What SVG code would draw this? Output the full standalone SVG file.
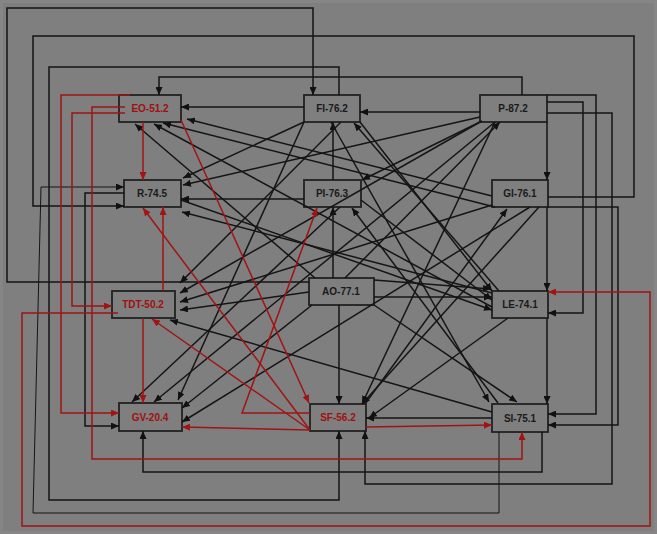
<svg xmlns="http://www.w3.org/2000/svg" width="657" height="534" viewBox="0 0 657 534">
<defs>
<marker id="ab" markerWidth="8" markerHeight="7" refX="8" refY="3.5" orient="auto" markerUnits="userSpaceOnUse"><path d="M0,0 L8,3.5 L0,7 z" fill="#111"/></marker>
<marker id="ar" markerWidth="8" markerHeight="7" refX="8" refY="3.5" orient="auto" markerUnits="userSpaceOnUse"><path d="M0,0 L8,3.5 L0,7 z" fill="#a01414"/></marker>
</defs>
<style>
.bg{fill:#7f7f7f}
.n rect{fill:#7f7f7f;stroke:#222;stroke-width:1.8}
.n text{font-family:"Liberation Sans",Arial,sans-serif;font-size:10px;font-weight:bold;text-anchor:middle;fill:#1a1a1a}
.n.red text{fill:#a01010}
.k path{fill:none;stroke:#151515;stroke-width:1.5}
.k path.b{marker-end:url(#ab)}
.k path.r{stroke:#a01414;marker-end:url(#ar)}
</style>
<rect x="0" y="0" width="657" height="534" fill="#868686"/>
<rect class="bg" x="3" y="3" width="651" height="528"/>
<g id="nodes">
<g id="EO" class="n red"><rect x="119" y="95" width="62" height="27"/><text x="150" y="112">EO-51.2</text></g>
<g id="FI" class="n"><rect x="304" y="95" width="56" height="27"/><text x="332" y="112">FI-76.2</text></g>
<g id="P" class="n"><rect x="480" y="95" width="67" height="27"/><text x="513" y="112">P-87.2</text></g>
<g id="R" class="n"><rect x="124" y="180" width="57" height="27"/><text x="152" y="197">R-74.5</text></g>
<g id="PI" class="n"><rect x="304" y="180" width="57" height="27"/><text x="332" y="197">PI-76.3</text></g>
<g id="GI" class="n"><rect x="492" y="180" width="56" height="27"/><text x="520" y="197">GI-76.1</text></g>
<g id="TDT" class="n red"><rect x="112" y="291" width="63" height="27"/><text x="143" y="308">TDT-50.2</text></g>
<g id="AO" class="n"><rect x="309" y="278" width="65" height="27"/><text x="341" y="295">AO-77.1</text></g>
<g id="LE" class="n"><rect x="492" y="291" width="56" height="27"/><text x="520" y="308">LE-74.1</text></g>
<g id="GV" class="n red"><rect x="119" y="403" width="63" height="28"/><text x="150" y="421">GV-20.4</text></g>
<g id="SF" class="n red"><rect x="310" y="404" width="56" height="27"/><text x="338" y="421">SF-56.2</text></g>
<g id="SI" class="n"><rect x="492" y="404" width="56" height="28"/><text x="520" y="422">SI-75.1</text></g>
</g>
<g id="connectors" class="k">
<path class="b" d="M309,282 H7 V8 H313 V95"/>
<path class="b" d="M548,197 H634 V36 H33 V206 H124"/>
<path class="b" d="M522,95 V77 H159 V95"/>
<path class="b" d="M339,95 V67 H49 V500 H339 V431"/>
<path class="b" d="M499,432 V513 H33 L41,187 H124" style="stroke-width:1"/>
<path class="b" d="M124,193 H85 V426 H119"/>
<path class="b" d="M542,432 V472 H143 V431"/>
<path class="b" d="M547,102 H583 V313 H548"/>
<path class="b" d="M547,95 H596 V414 H548"/>
<path class="b" d="M548,207 H618 V425 H548"/>
<path class="b" d="M547,113 H612 V484 H365 V431"/>
<path class="b" d="M547,122 V180"/>
<path class="b" d="M547,207 V291"/>
<path class="b" d="M547,318 V404"/>
<path class="b" d="M304,107 H181"/>
<path class="b" d="M480,112 H360"/>
<path class="b" d="M333,180 V122"/>
<path class="b" d="M333,278 V207"/>
<path class="b" d="M339,305 V404"/>
<path class="b" d="M304,199 H181"/>
<path class="b" d="M492,418 H366"/>
<path class="b" d="M374,297 H492"/>
<path class="b" d="M374,280 L491,289"/>
<path class="b" d="M492,196 L187,119"/>
<path class="b" d="M492,307 L154,124"/>
<path class="b" d="M315,278 L135,124"/>
<path class="b" d="M495,207 L163,123"/>
<path class="b" d="M499,291 L354,123"/>
<path class="b" d="M304,122 L183,178"/>
<path class="b" d="M480,117 L183,185"/>
<path class="b" d="M482,121 L362,180"/>
<path class="b" d="M492,293 L182,212"/>
<path class="b" d="M341,122 L180,283"/>
<path class="b" d="M480,122 L180,293"/>
<path class="b" d="M492,205 L180,302"/>
<path class="b" d="M309,292 L180,310"/>
<path class="b" d="M492,412 L170,320"/>
<path class="b" d="M304,122 L178,400"/>
<path class="b" d="M340,207 L132,402"/>
<path class="b" d="M495,122 L154,402"/>
<path class="b" d="M312,305 L182,408"/>
<path class="b" d="M530,207 L182,422"/>
<path class="b" d="M360,122 L492,291"/>
<path class="b" d="M331,122 L489,402"/>
<path class="b" d="M495,122 L362,404"/>
<path class="b" d="M539,207 L362,404"/>
<path class="b" d="M365,404 L507,209"/>
<path class="b" d="M508,318 L369,418"/>
<path class="b" d="M361,200 L492,300"/>
<path class="b" d="M498,403 L352,208"/>
<path class="b" d="M374,305 L517,402"/>
<path class="b" d="M345,278 L500,122"/>
<path class="b" d="M181,200 L492,310"/>
<path class="r" d="M130,95 H61 V413 H119"/>
<path class="r" d="M125,113 H72 V306 H112"/>
<path class="r" d="M125,107 H92 V459 H522 V432"/>
<path class="r" d="M118,313 H22 V526 H650 V292 H548"/>
<path class="r" d="M143,122 V180"/>
<path class="r" d="M163,291 V207"/>
<path class="r" d="M143,318 V403"/>
<path class="r" d="M181,120 L309,403"/>
<path class="r" d="M310,430 L182,427"/>
<path class="r" d="M310,430 L152,319"/>
<path class="r" d="M310,430 L143,208"/>
<path class="r" d="M310,413 H242 L317,208"/>
<path class="r" d="M366,427 L492,425"/>
</g>
</svg>
